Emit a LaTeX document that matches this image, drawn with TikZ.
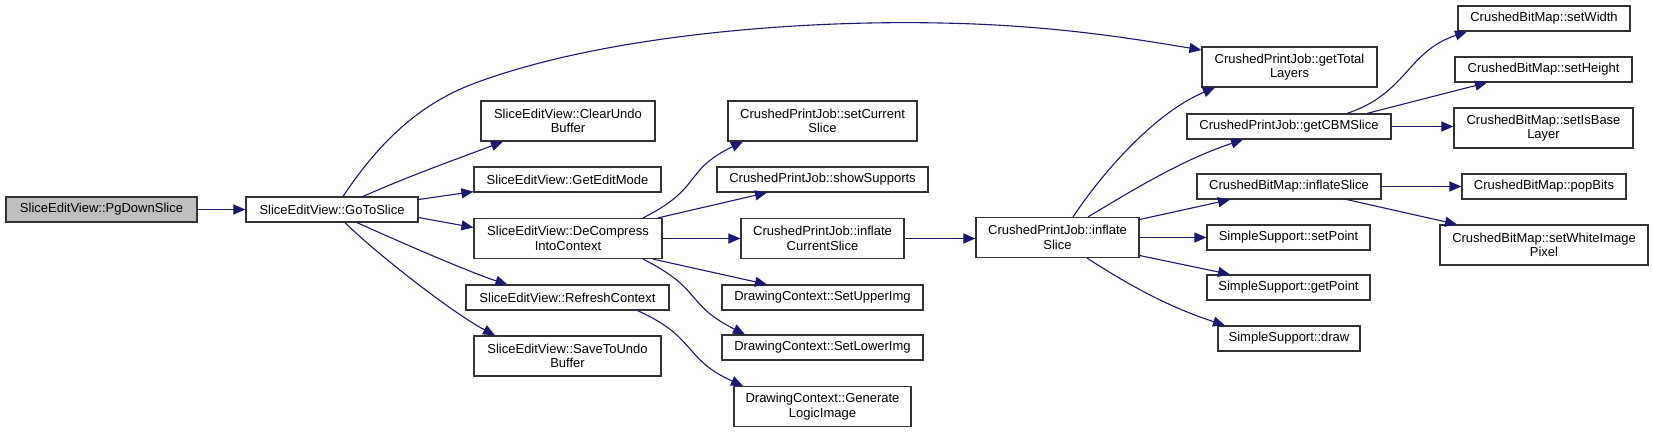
\documentclass[tikz,border=0pt]{standalone}
\usepackage{fontspec}
\setmainfont{Liberation Sans}
\usetikzlibrary{arrows.meta}
\definecolor{edgeblue}{RGB}{25,25,112}
\definecolor{rootgray}{RGB}{191,191,191}
\definecolor{boxline}{RGB}{50,50,50}
\begin{document}
\begin{tikzpicture}[x=1pt,y=-1pt,
  fn/.style={draw=boxline, line width=1.2pt, fill=white, inner sep=0pt, align=center,
    font=\fontsize{13}{14.5}\selectfont, minimum height=25pt},
  fn2/.style={fn, minimum height=40pt},
  call/.style={draw=edgeblue, line width=1.1pt, -{Triangle[length=12pt,width=10pt]}}]
\useasboundingbox (0,0) rectangle (1653,432);

% column 0/1
\node[fn, fill=rootgray, minimum width=191pt] (pds) at (101.5,209.5) {SliceEditView::PgDownSlice};
\node[fn, minimum width=172pt] (gts) at (332,209.5) {SliceEditView::GoToSlice};
% column 2
\node[fn2, minimum width=174pt] (cub) at (568,121) {SliceEditView::ClearUndo\\Buffer};
\node[fn, minimum width=187pt] (gem) at (567.5,179.5) {SliceEditView::GetEditMode};
\node[fn2, minimum width=188pt] (dci) at (568,238.5) {SliceEditView::DeCompress\\IntoContext};
\node[fn, minimum width=203pt] (rfc) at (567.5,297.5) {SliceEditView::RefreshContext};
\node[fn2, minimum width=187pt] (stu) at (567.5,356) {SliceEditView::SaveToUndo\\Buffer};
% column 3
\node[fn2, minimum width=189pt] (scs) at (822.5,121) {CrushedPrintJob::setCurrent\\Slice};
\node[fn, minimum width=211pt] (shs) at (822.5,179.5) {CrushedPrintJob::showSupports};
\node[fn2, minimum width=163pt] (ics) at (822.5,238.5) {CrushedPrintJob::inflate\\CurrentSlice};
\node[fn, minimum width=201pt] (sui) at (822.5,297.5) {DrawingContext::SetUpperImg};
\node[fn, minimum width=201pt] (sli) at (822.5,347.5) {DrawingContext::SetLowerImg};
\node[fn2, minimum width=177pt] (gli) at (822.5,406.5) {DrawingContext::Generate\\LogicImage};
% column 4
\node[fn2, minimum width=163pt] (cis) at (1057.5,237.5) {CrushedPrintJob::inflate\\Slice};
% column 5
\node[fn2, minimum width=175pt] (gtl) at (1289.5,67) {CrushedPrintJob::getTotal\\Layers};
\node[fn, minimum width=204pt] (gcb) at (1289,126.5) {CrushedPrintJob::getCBMSlice};
\node[fn, minimum width=184pt] (bis) at (1289,186.5) {CrushedBitMap::inflateSlice};
\node[fn, minimum width=163pt] (spt) at (1288.5,237.5) {SimpleSupport::setPoint};
\node[fn, minimum width=163pt] (gpt) at (1288.5,287.5) {SimpleSupport::getPoint};
\node[fn, minimum width=142pt] (drw) at (1289,338.5) {SimpleSupport::draw};
% column 6
\node[fn, minimum width=172pt] (sw) at (1544,18.5) {CrushedBitMap::setWidth};
\node[fn, minimum width=177pt] (sh) at (1543.5,69.5) {CrushedBitMap::setHeight};
\node[fn2, minimum width=179pt] (sib) at (1543.5,128) {CrushedBitMap::setIsBase\\Layer};
\node[fn, minimum width=164pt] (pop) at (1544,186.5) {CrushedBitMap::popBits};
\node[fn2, minimum width=208pt] (wip) at (1544,245) {CrushedBitMap::setWhiteImage\\Pixel};

% edges
\draw[call] (pds) -- (gts);
\draw[call] ([xshift=11pt]gts.north) .. controls +(38,-57) and +(-50,20) .. (470,85)
  .. controls +(130,-50) and +(-140,-3) .. (940,23)
  .. controls +(110,2) and +(-72,-12) .. ([yshift=17pt]gtl.west);
\draw[call] ([xshift=31pt]gts.north) .. controls +(50,-22) and +(-45,17) .. ([xshift=-65pt]cub.south);
\draw[call] ([yshift=10pt]gts.east) -- ([yshift=1pt]gem.south west);
\draw[call] ([yshift=-8pt]gts.east) -- ([yshift=11pt]dci.west);
\draw[call] ([xshift=25pt]gts.south) .. controls +(33,15) and +(-38,-12) .. ([xshift=-60pt]rfc.north);
\draw[call] ([xshift=13pt]gts.south) .. controls +(28,28) and +(-45,-24) .. ([xshift=-72.5pt]stu.north);

\draw[call] ([xshift=75pt]dci.north) .. controls +(60,-30) and +(-60,29) .. ([xshift=-79.5pt]scs.south);
\draw[call] ([xshift=90pt]dci.north) -- ([xshift=-55.5pt]shs.south);
\draw[call] (dci.east) -- (ics.west);
\draw[call] ([xshift=85pt]dci.south) -- ([xshift=-55.5pt]sui.north);
\draw[call] ([xshift=75pt]dci.south) .. controls +(60,30) and +(-60,-30) .. ([xshift=-77.5pt]sli.north);
\draw[call] ([xshift=70pt]rfc.south) .. controls +(60,27) and +(-60,-27) .. ([xshift=-79.5pt]gli.north);

\draw[call] (ics.east) -- (cis.west |- ics.east);

\draw[call] ([xshift=15.5pt]cis.north) .. controls +(30,-45) and +(-60,25) .. ([xshift=-74.5pt]gtl.south);
\draw[call] ([xshift=30.5pt]cis.north) .. controls +(50,-30) and +(-60,20) .. ([xshift=-46pt]gcb.south);
\draw[call] ([yshift=18pt]cis.east) -- ([xshift=-59pt]bis.south);
\draw[call] (cis.east) -- (spt.west);
\draw[call] ([yshift=-18pt]cis.east) -- ([xshift=-58.5pt]gpt.north);
\draw[call] ([xshift=29.5pt]cis.south) .. controls +(45,29) and +(-55,-18) .. ([xshift=-64pt]drw.north);

\draw[call] ([xshift=58pt]gcb.north) .. controls +(60,-20) and +(-60,20) .. ([xshift=-77pt]sw.south);
\draw[call] ([xshift=78pt]gcb.north) -- ([xshift=-56.5pt]sh.south);
\draw[call] (gcb.east) -- (sib.west |- gcb.east);
\draw[call] (bis.east) -- (pop.west);
\draw[call] ([xshift=58pt]bis.south) -- ([xshift=-87pt]wip.north);
\end{tikzpicture}
\end{document}
